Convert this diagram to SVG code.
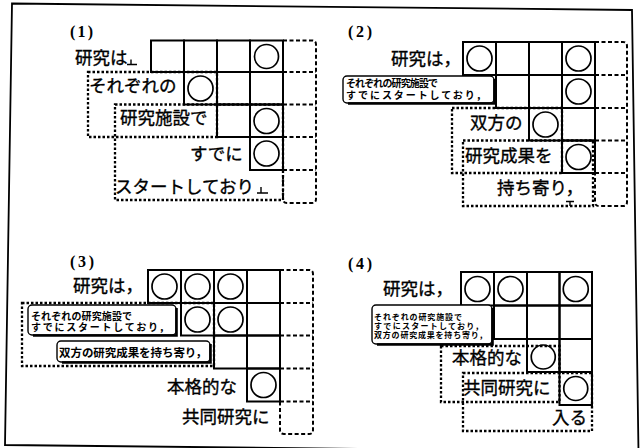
<svg xmlns="http://www.w3.org/2000/svg" width="642" height="448" viewBox="0 0 642 448">
<style>
.cell{fill:none;stroke:#000;stroke-width:2}
.circ{fill:none;stroke:#000;stroke-width:1.7}
.dash{fill:none;stroke:#000;stroke-width:2.3;stroke-dasharray:2.5 2}
.col{fill:none;stroke:#000;stroke-width:2;stroke-dasharray:4 2.5}
.rb{fill:#fff;stroke:#000;stroke-width:1.4}
.sh{fill:none;stroke:#000;stroke-width:2.6}
.mk{fill:none;stroke:#000;stroke-width:1.4}
.t{font-family:"Noto Sans CJK JP","Noto Sans CJK SC",sans-serif;font-size:17.5px;fill:#000;stroke:#000;stroke-width:0.35}
.s{font-family:"Noto Sans CJK JP","Noto Sans CJK SC",sans-serif;font-weight:700;fill:#000}
.n{font-family:"Liberation Serif",serif;font-size:16px;font-weight:700;fill:#000}
</style>
<rect width="642" height="448" fill="#fff"/>
<polygon points="12,3.5 632,10 638.5,452 5,445" fill="none" stroke="#000" stroke-width="1.8"/>

<!-- Panel 1 -->
<g id="panel1">
  <text class="n" x="70" y="36.5" textLength="23">(1)</text>
  <g id="p1-grid">
    <rect class="cell" x="151" y="40.5" width="33" height="31.5"/>
    <rect class="cell" x="184" y="40.5" width="33" height="31.5"/>
    <rect class="cell" x="217" y="40.5" width="33" height="31.5"/>
    <rect class="cell" x="250" y="40.5" width="33" height="31.5"/>
    <rect class="cell" x="184" y="72" width="33" height="32.5"/>
    <rect class="cell" x="217" y="72" width="33" height="32.5"/>
    <rect class="cell" x="250" y="72" width="33" height="32.5"/>
    <rect class="cell" x="217" y="104.5" width="33" height="32.5"/>
    <rect class="cell" x="250" y="104.5" width="33" height="32.5"/>
    <rect class="cell" x="250" y="137" width="33" height="33"/>
    <circle class="circ" cx="266.5" cy="56.5" r="12"/>
    <circle class="circ" cx="200.5" cy="88.5" r="12.5"/>
    <circle class="circ" cx="266.5" cy="121" r="12.5"/>
    <circle class="circ" cx="266.5" cy="153.5" r="12.5"/>
    <path class="col" d="M283,40.5H312Q316,40.5 316,44.5V199Q316,203 312,203H287Q283,203 283,199V170M283,72H316M283,104.5H316M283,137H316M283,170H316"/>
  </g>
  <g id="p1-kenkyuwa">
    <text class="t" x="75" y="64">研究は</text>
    <path class="mk" d="M131,59.5V64M127,64.5H137"/>
  </g>
  <g id="p1-sorezoreno">
    <rect class="dash" x="88" y="72" width="129" height="65"/>
    <text class="t" x="89" y="92">それぞれの</text>
  </g>
  <g id="p1-kenkyushisetsude">
    <rect class="dash" x="115" y="104.5" width="168" height="95.5"/>
    <text class="t" x="120" y="124">研究施設で</text>
    <text class="t" x="190" y="160">すでに</text>
    <text class="t" x="115" y="192.5">スタートしており</text>
    <path class="mk" d="M261,187V192.5M257,193H268"/>
  </g>
</g>

<!-- Panel 2 -->
<g id="panel2">
  <text class="n" x="348" y="36.5" textLength="24">(2)</text>
  <g id="p2-grid">
    <rect class="cell" x="463" y="42" width="33" height="33"/>
    <rect class="cell" x="496" y="42" width="33" height="33"/>
    <rect class="cell" x="529" y="42" width="33" height="33"/>
    <rect class="cell" x="562" y="42" width="33" height="33"/>
    <rect class="cell" x="496" y="75" width="33" height="33"/>
    <rect class="cell" x="529" y="75" width="33" height="33"/>
    <rect class="cell" x="562" y="75" width="33" height="33"/>
    <rect class="cell" x="529" y="108" width="33" height="32.5"/>
    <rect class="cell" x="562" y="108" width="33" height="32.5"/>
    <rect class="cell" x="562" y="140.5" width="33" height="32.5"/>
    <circle class="circ" cx="479.5" cy="58.5" r="12.5"/>
    <circle class="circ" cx="578.5" cy="58.5" r="12.5"/>
    <circle class="circ" cx="578.5" cy="91.5" r="12.5"/>
    <circle class="circ" cx="545.5" cy="124.5" r="12.5"/>
    <circle class="circ" cx="578.5" cy="157" r="12.5"/>
    <path class="col" d="M595,42H623Q627,42 627,46V202Q627,206 623,206H599Q595,206 595,202V173M595,75H627M595,108H627M595,140.5H627M595,173H627"/>
  </g>
  <g id="p2-kenkyuwa">
    <text class="t" x="391" y="64.5">研究は，</text>
  </g>
  <g id="p2-merged">
    <rect class="rb" x="343" y="76" width="151" height="27" rx="4"/>
    <path class="sh" d="M494.5,79V103.5H348"/>
    <text class="s" x="346" y="87" font-size="10" textLength="92">それぞれの研究施設で</text>
    <text class="s" x="346" y="99" font-size="10" textLength="140">すでにスタートしており，</text>
  </g>
  <g id="p2-soho">
    <rect class="dash" x="452" y="108" width="110" height="65"/>
    <text class="t" x="470" y="129">双方の</text>
  </g>
  <g id="p2-seika">
    <rect class="dash" x="463" y="140.5" width="130" height="65.5"/>
    <text class="t" x="465" y="161.5">研究成果を</text>
    <text class="t" x="497" y="193.5">持ち寄り，</text>
    <path class="mk" d="M566,201.5H574M570,201.5V206"/>
  </g>
</g>

<!-- Panel 3 -->
<g id="panel3">
  <text class="n" x="70" y="267" textLength="24">(3)</text>
  <g id="p3-grid">
    <rect class="cell" x="148" y="270" width="33" height="33"/>
    <rect class="cell" x="181" y="270" width="33" height="33"/>
    <rect class="cell" x="214" y="270" width="33" height="33"/>
    <rect class="cell" x="247" y="270" width="33" height="33"/>
    <rect class="cell" x="181" y="303" width="33" height="32.5"/>
    <rect class="cell" x="214" y="303" width="33" height="32.5"/>
    <rect class="cell" x="247" y="303" width="33" height="32.5"/>
    <rect class="cell" x="214" y="335.5" width="33" height="33"/>
    <rect class="cell" x="247" y="335.5" width="33" height="33"/>
    <rect class="cell" x="247" y="368.5" width="33" height="33"/>
    <circle class="circ" cx="164.5" cy="286.5" r="12.5"/>
    <circle class="circ" cx="197.5" cy="286.5" r="12.5"/>
    <circle class="circ" cx="230.5" cy="286.5" r="12.5"/>
    <circle class="circ" cx="197.5" cy="319.5" r="12.5"/>
    <circle class="circ" cx="230.5" cy="319.5" r="12.5"/>
    <circle class="circ" cx="263.5" cy="385" r="12.5"/>
    <path class="col" d="M280,270H309Q313,270 313,274V430Q313,434 309,434H284Q280,434 280,430V401.5M280,303H313M280,335.5H313M280,368.5H313M280,401.5H313"/>
  </g>
  <g id="p3-kenkyuwa">
    <text class="t" x="73" y="291.5">研究は，</text>
  </g>
  <g id="p3-merged">
    <rect class="dash" x="22" y="303" width="192" height="63"/>
    <rect class="rb" x="28" y="305" width="148" height="30" rx="4"/>
    <path class="sh" d="M176.5,308V335.5H33"/>
    <text class="s" x="31" y="319.5" font-size="10" textLength="101">それぞれの研究施設で</text>
    <text class="s" x="31" y="331" font-size="10" textLength="138">すでにスタートしており，</text>
    <rect class="rb" x="57" y="341" width="153" height="21" rx="4"/>
    <path class="sh" d="M210.5,344V362.5H62"/>
    <text class="s" x="59" y="357" font-size="11.5" textLength="148">双方の研究成果を持ち寄り，</text>
  </g>
  <g id="p3-honkakuteki">
    <text class="t" x="167" y="392.5">本格的な</text>
  </g>
  <g id="p3-kyodo">
    <text class="t" x="182" y="422.5">共同研究に</text>
  </g>
</g>

<!-- Panel 4 -->
<g id="panel4">
  <text class="n" x="348" y="269" textLength="24">(4)</text>
  <g id="p4-grid">
    <rect class="cell" x="461" y="272" width="33" height="33.5"/>
    <rect class="cell" x="494" y="272" width="33" height="33.5"/>
    <rect class="cell" x="527" y="272" width="32.5" height="33.5"/>
    <rect class="cell" x="559.5" y="272" width="32.5" height="33.5"/>
    <rect class="cell" x="494" y="305.5" width="33" height="33.5"/>
    <rect class="cell" x="527" y="305.5" width="32.5" height="33.5"/>
    <rect class="cell" x="559.5" y="305.5" width="32.5" height="33.5"/>
    <rect class="cell" x="527" y="339" width="32.5" height="33"/>
    <rect class="cell" x="559.5" y="339" width="32.5" height="33"/>
    <rect class="cell" x="559.5" y="372" width="32.5" height="33"/>
    <circle class="circ" cx="477.5" cy="289" r="12.5"/>
    <circle class="circ" cx="510.5" cy="289" r="12.5"/>
    <circle class="circ" cx="575.75" cy="289" r="12.5"/>
    <circle class="circ" cx="543.25" cy="357" r="12"/>
    <circle class="circ" cx="575.75" cy="388.5" r="12"/>
  </g>
  <g id="p4-kenkyuwa">
    <text class="t" x="383" y="295">研究は，</text>
  </g>
  <g id="p4-merged">
    <rect class="rb" x="372" y="305" width="120" height="39" rx="4"/>
    <path class="sh" d="M492.5,308V344.5H377"/>
    <text class="s" x="374" y="320" font-size="8" textLength="88">それぞれの研究施設で</text>
    <text class="s" x="374" y="328.8" font-size="8" textLength="109">すでにスタートしており，</text>
    <text class="s" x="374" y="337.6" font-size="8" textLength="113">双方の研究成果を持ち寄り，</text>
  </g>
  <g id="p4-honkakuteki">
    <rect class="dash" x="441" y="346" width="118.5" height="56"/>
    <text class="t" x="452" y="364">本格的な</text>
  </g>
  <g id="p4-kyodo">
    <rect class="dash" x="463" y="373" width="129" height="58"/>
    <text class="t" x="463" y="393.5">共同研究に</text>
    <text class="t" x="552" y="424">入る</text>
  </g>
</g>
<g id="connectors"/>
</svg>
